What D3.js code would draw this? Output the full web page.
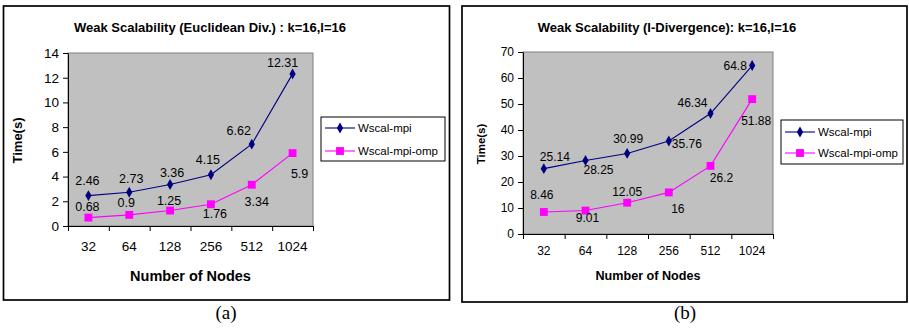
<!DOCTYPE html>
<html>
<head>
<meta charset="utf-8">
<script src="https://cdn.jsdelivr.net/npm/d3@7/dist/d3.min.js"></script>
<style>
  html, body { margin: 0; padding: 0; background: #fff; }
  svg { display: block; font-family: "Liberation Sans", Arial, sans-serif; }
</style>
</head>
<body>
<svg id="chart" width="909" height="328"></svg>
<script>
// Node counts on the x axis
const nodes = ["32", "64", "128", "256", "512", "1024"];
const seriesNames = ["Wscal-mpi", "Wscal-mpi-omp"];

// Euclidean divergence run times (s)
const euclidMpi = [2.46, 2.73, 3.36, 4.15, 6.62, 12.31];
const euclidOmp = [0.68, 0.9, 1.25, 1.76, 3.34, 5.9];
const euclidTicks = [0, 2, 4, 6, 8, 10, 12, 14];

// I-divergence run times (s)
const idivMpi = [25.14, 28.25, 30.99, 35.76, 46.34, 64.8];
const idivOmp = [8.46, 9.01, 12.05, 16, 26.2, 51.88];
const idivTicks = [0, 10, 20, 30, 40, 50, 60, 70];

const MPI_COLOR = "#000080";
const OMP_COLOR = "#ff00ff";

const svg = d3.select("#chart");

function drawPanel(cfg) {
  const g = svg.append("g");

  // outer frame
  g.append("rect")
    .attr("x", cfg.frame[0]).attr("y", cfg.frame[1])
    .attr("width", cfg.frame[2] - cfg.frame[0])
    .attr("height", cfg.frame[3] - cfg.frame[1])
    .attr("fill", "#fff").attr("stroke", "#000").attr("stroke-width", 1.7);

  // title
  g.append("text")
    .attr("x", cfg.titleX).attr("y", 32)
    .attr("text-anchor", "middle")
    .attr("font-weight", "bold").attr("font-size", cfg.titleSize)
    .text(cfg.title);

  const [x0, x1, yTop, yBot] = cfg.plot;
  const x = d3.scaleBand().domain(nodes).range([x0, x1]);
  const xEdge = d3.scaleLinear().domain([0, nodes.length]).range([x0, x1]);
  const y = d3.scaleLinear().domain([0, d3.max(cfg.ticks)]).range([yBot, yTop]);

  // plot area
  g.append("rect")
    .attr("x", x0).attr("y", yTop)
    .attr("width", x1 - x0).attr("height", yBot - yTop)
    .attr("fill", "#c0c0c0").attr("stroke", "#808080").attr("stroke-width", 1);

  // y axis
  const yAxis = g.append("g")
    .attr("transform", `translate(${x0},0)`)
    .call(d3.axisLeft(y).tickValues(cfg.ticks).tickSize(5).tickPadding(4).tickSizeOuter(0));
  yAxis.selectAll("text").attr("font-size", cfg.tickSize).attr("font-family", null).attr("fill", "#000");
  yAxis.selectAll("line, path").attr("stroke", "#000");

  // x axis: boundary ticks
  const xTickAxis = g.append("g")
    .attr("transform", `translate(0,${yBot})`)
    .call(d3.axisBottom(xEdge).tickValues(d3.range(nodes.length + 1)).tickSize(5).tickSizeOuter(0).tickFormat(""));
  xTickAxis.selectAll("line, path").attr("stroke", "#000");

  // x axis: category labels
  const xLab = g.append("g")
    .attr("transform", `translate(0,${yBot})`)
    .call(d3.axisBottom(x).tickSize(0).tickPadding(cfg.xLabelPad));
  xLab.select("path").remove();
  xLab.selectAll("text").attr("font-size", cfg.tickSize).attr("font-family", null).attr("fill", "#000");

  // axis titles
  g.append("text")
    .attr("x", (x0 + x1) / 2).attr("y", cfg.xTitleY)
    .attr("text-anchor", "middle").attr("font-weight", "bold").attr("font-size", cfg.xTitleSize)
    .text("Number of Nodes");
  g.append("text")
    .attr("transform", `translate(${cfg.yTitleX},${(yTop + yBot) / 2 + 1}) rotate(-90)`)
    .attr("text-anchor", "middle").attr("dy", "0.35em")
    .attr("font-weight", "bold").attr("font-size", cfg.yTitleSize)
    .text("Time(s)");

  const line = d3.line().x((d, i) => x(nodes[i]) + x.bandwidth() / 2).y(d => y(d));

  const series = [
    { values: cfg.mpi, color: MPI_COLOR, shape: d3.symbolDiamond, size: 34, offsets: cfg.mpiOff },
    { values: cfg.omp, color: OMP_COLOR, shape: d3.symbolSquare, size: 62, offsets: cfg.ompOff }
  ];

  series.forEach(s => {
    g.append("path").datum(s.values)
      .attr("d", line).attr("fill", "none").attr("stroke", s.color).attr("stroke-width", 1.1);
    g.selectAll(null).data(s.values).enter().append("path")
      .attr("d", d3.symbol().type(s.shape).size(s.size))
      .attr("transform", (d, i) => `translate(${x(nodes[i]) + x.bandwidth() / 2},${y(d)})`)
      .attr("fill", s.color);
    g.selectAll(null).data(s.values).enter().append("text")
      .attr("x", (d, i) => x(nodes[i]) + x.bandwidth() / 2 + s.offsets[i][0])
      .attr("y", (d, i) => y(d) + s.offsets[i][1])
      .attr("dy", "0.35em").attr("text-anchor", "middle")
      .attr("font-size", cfg.valueSize)
      .text(d => d);
  });

  // legend
  const [lx0, ly0, lx1, ly1] = cfg.legend;
  g.append("rect")
    .attr("x", lx0).attr("y", ly0).attr("width", lx1 - lx0).attr("height", ly1 - ly0)
    .attr("fill", "#fff").attr("stroke", "#000").attr("stroke-width", 1);
  series.forEach((s, i) => {
    const ly = cfg.legendRows[i];
    g.append("line")
      .attr("x1", lx0 + 4).attr("x2", lx0 + 34).attr("y1", ly).attr("y2", ly)
      .attr("stroke", s.color).attr("stroke-width", 1.1);
    g.append("path")
      .attr("d", d3.symbol().type(s.shape).size(s.size))
      .attr("transform", `translate(${lx0 + 19},${ly})`)
      .attr("fill", s.color);
    g.append("text")
      .attr("x", lx0 + 37).attr("y", ly).attr("dy", "0.35em")
      .attr("font-size", cfg.legendSize)
      .text(seriesNames[i]);
  });

  // caption
  svg.append("text")
    .attr("x", cfg.captionX).attr("y", 319)
    .attr("text-anchor", "middle")
    .attr("font-family", "'Liberation Serif', 'Times New Roman', serif")
    .attr("font-size", 19)
    .text(cfg.caption);
}

drawPanel({
  frame: [3.5, 6, 449.5, 300],
  title: "Weak Scalability (Euclidean Div.) : k=16,l=16",
  titleX: 210, titleSize: 13,
  plot: [68, 313, 53, 226],
  ticks: euclidTicks,
  tickSize: 13.5, valueSize: 12.5, xLabelPad: 15,
  xTitleSize: 14.5, yTitleSize: 13, xTitleY: 281, yTitleX: 17,
  mpi: euclidMpi, omp: euclidOmp,
  mpiOff: [[-1, -15], [2, -14], [2, -12], [-3, -15], [-13, -14], [-10, -11]],
  ompOff: [[-1, -11], [-3, -12], [-1, -10], [4, 9], [5, 17], [7, 21]],
  legend: [321, 117, 445, 161], legendRows: [128, 151], legendSize: 11.5,
  caption: "(a)", captionX: 226
});

drawPanel({
  frame: [462, 6, 907, 302],
  title: "Weak Scalability (I-Divergence): k=16,l=16",
  titleX: 667, titleSize: 13,
  plot: [523, 773, 52, 234],
  ticks: idivTicks,
  tickSize: 12, valueSize: 12, xLabelPad: 12,
  xTitleSize: 12.6, yTitleSize: 11.5, xTitleY: 280, yTitleX: 481,
  mpi: idivMpi, omp: idivOmp,
  mpiOff: [[11, -12], [13, 9], [1, -15], [18, 3], [-18, -11], [-17, 0]],
  ompOff: [[-2, -17], [2, 7], [0, -11], [9, 16], [11, 12], [4, 22]],
  legend: [781, 120, 903, 164], legendRows: [132, 153], legendSize: 11.5,
  caption: "(b)", captionX: 685
});
</script>
</body>
</html>
